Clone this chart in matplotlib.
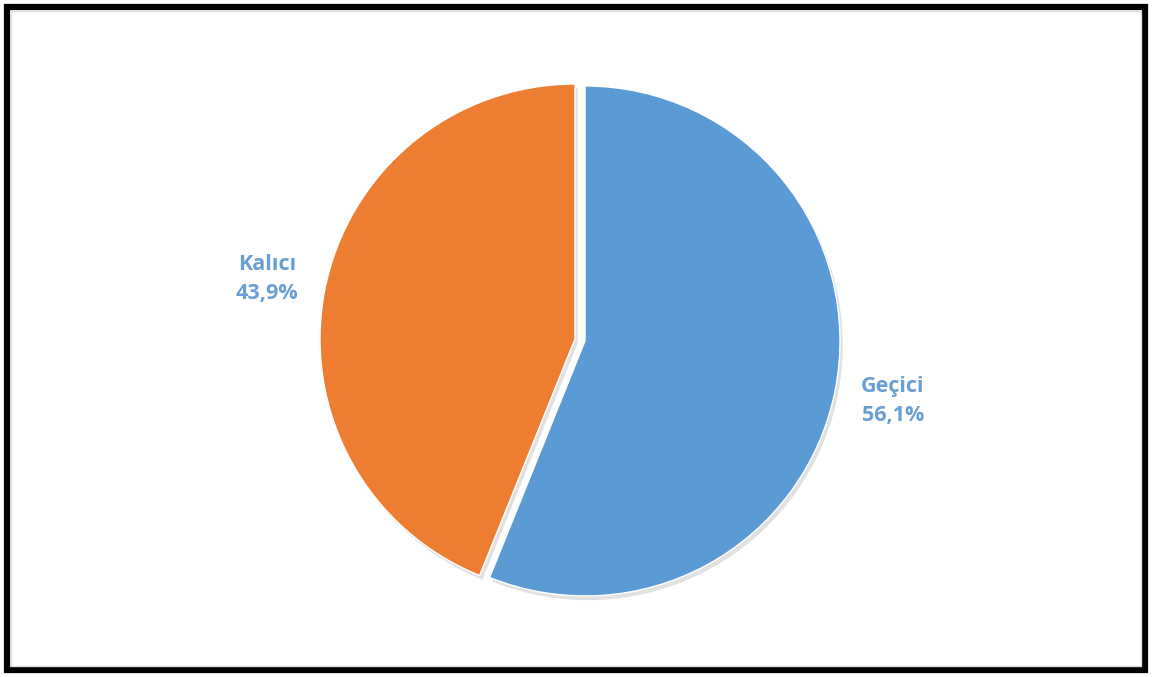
import matplotlib.pyplot as plt
import matplotlib.patheffects as pe
from matplotlib.patches import Rectangle

# shares of the two categories (percent)
categories = ['Geçici', 'Kalıcı']
shares = [56.1, 43.9]
colors = ['#5B9BD5', '#ED7D31']

W, H = 1152, 677
fig = plt.figure(figsize=(W / 100, H / 100), dpi=100)
fig.patch.set_facecolor('white')

# square axes, pie centre around (580, 340) px, radius ~255 px
r_px = 255
cx, cy = 580, H - 340
half = 1.2 * r_px
ax = fig.add_axes([(cx - half) / W, (cy - half) / H, 2 * half / W, 2 * half / H])

labels = [f"{c}\n{v:.1f}%".replace('.', ',') for c, v in zip(categories, shares)]
wedges, texts = ax.pie(
    shares, labels=labels, colors=colors, startangle=90, counterclock=False,
    explode=[0.02, 0.02], labeldistance=1.23,
    wedgeprops=dict(edgecolor='white', linewidth=1.0),
    textprops=dict(fontsize=15.5, fontweight='bold', color='#6A9FD6', family='Open Sans'),
)
for w in wedges:
    w.set_path_effects([pe.SimplePatchShadow(offset=(2, -3), shadow_rgbFace='#888888', alpha=0.25),
                        pe.Normal()])
for t in texts:
    t.set_ha('center')
    t.set_va('center')
    t.set_multialignment('center')
    t.set_linespacing(1.5)

ax.set_xlim(-1.2, 1.2)
ax.set_ylim(-1.2, 1.2)
ax.set_aspect('equal')
ax.axis('off')

# black frame round the figure
fig.patches.append(Rectangle((7 / W, 7 / H), (W - 14) / W, (H - 14) / H,
                             transform=fig.transFigure, fill=False,
                             edgecolor='black', linewidth=4.5))
fig.patches.append(Rectangle((11 / W, 11 / H), (W - 22) / W, (H - 22) / H,
                             transform=fig.transFigure, fill=False,
                             edgecolor='#dddddd', linewidth=1.0))

fig.savefig('out.png', dpi=100)
